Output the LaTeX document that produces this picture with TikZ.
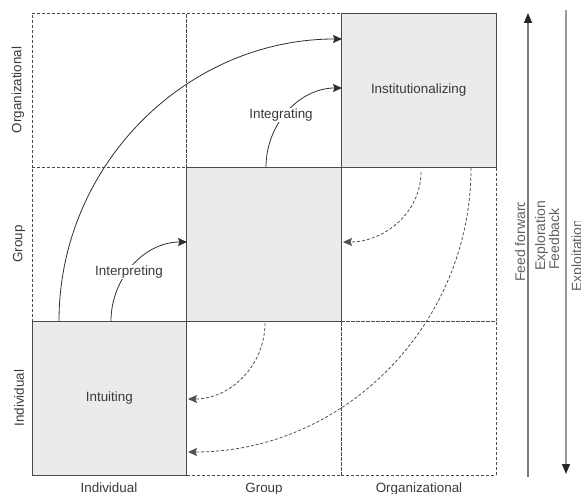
\documentclass[tikz,border=0pt]{standalone}
\usepackage{fontspec}
\setmainfont{Liberation Sans}
\usepackage{tikz}
\usetikzlibrary{arrows.meta,calc}
\definecolor{ink}{HTML}{2E2E2E}
\definecolor{cellbg}{HTML}{EBEBEB}
\definecolor{gridln}{HTML}{4A4A4A}
\definecolor{dashln}{HTML}{505050}
\definecolor{upln}{HTML}{7A7A7A}
\definecolor{dnln}{HTML}{9A9A9A}
\definecolor{txt}{HTML}{3A3A3A}
\tikzset{
  cell/.style={rectangle,draw=gridln,densely dashed,line width=0.7pt,
    minimum width=154.67pt,minimum height=154pt,inner sep=0pt,outer sep=0pt,
    font=\fontsize{13.4}{16}\selectfont,text=txt},
  cellg/.style={cell,solid,fill=cellbg},
  lbl/.style={font=\fontsize{13.4}{16}\selectfont,text=txt,inner sep=1pt},
  lblw/.style={lbl,fill=white},
  axl/.style={lbl,rotate=90},
  sidel/.style={font=\fontsize{14}{16}\selectfont,text=txt!80,rotate=90,anchor=base west,inner sep=0pt},
  ar/.style={-{Stealth[length=9pt,width=8pt,inset=1.5pt]},line width=0.8pt,draw=ink},
  ard/.style={ar,densely dashed,draw=dashln},
  axar/.style={-{Triangle[length=10pt,width=8pt,color=black!85]},line width=1.4pt},
}

\begin{document}
\begin{tikzpicture}[x=1pt,y=-1pt]
  \useasboundingbox (0,0) rectangle (581,494);
  % the 3x3 grid; shaded cells come last so their frame stays solid
  \foreach \r/\c/\s/\t in {1/1/cell/{},1/2/cell/{},2/1/cell/{},2/3/cell/{},3/2/cell/{},3/3/cell/{},
      1/3/cellg/Institutionalizing,2/2/cellg/{},3/1/cellg/Intuiting}
    \node[\s] (c\r\c) at ({32+154.67*(\c-0.5)},{13+154*(\r-0.5)}) {\t};

  % end points of the arcs
  \coordinate (ffs) at (59,321);   \coordinate (ffe) at (342,39);
  \coordinate (igs) at (266,167);  \coordinate (ige) at (342,88);
  \coordinate (ips) at (111,321);  \coordinate (ipe) at (187,242);
  \coordinate (fbas) at (421,172); \coordinate (fbae) at (343,242);
  \coordinate (fbbs) at (471,168); \coordinate (fbbe) at (188,452);
  \coordinate (fbcs) at (265,323); \coordinate (fbce) at (188,399);

  % feed forward
  \draw[ar] (ffs) to[out=90,in=180] (ffe);
  \draw[ar] (igs) to[out=90,in=180] (ige);
  \draw[ar] (ips) to[out=90,in=180] (ipe);
  % feedback
  \draw[ard] (fbas) to[out=-90,in=0] (fbae);
  \draw[ard] (fbbs) to[out=-90,in=0] (fbbe);
  \draw[ard] (fbcs) to[out=-90,in=0] (fbce);

  \node[lblw] (integ) at (281,115) {Integrating};
  \node[lblw] (interp) at (129,272) {Interpreting};

  % level labels
  \node[axl] (yorg) at (18,90) {Organizational};
  \node[axl] (ygrp) at (19,244) {Group};
  \node[axl] (yind) at (19,398) {Individual};
  \node[lbl,anchor=base] (xind) at (109,492) {Individual};
  \node[lbl,anchor=base] (xgrp) at (264,492) {Group};
  \node[lbl,anchor=base] (xorg) at (419,492) {Organizational};

  % the two flows on the right
  \coordinate (upb) at (528,477); \coordinate (upt) at (528,13);
  \coordinate (dnt) at (566,10);  \coordinate (dnb) at (566,474);
  \draw[axar,draw=upln] (upb) -- (upt);
  \draw[axar,draw=dnln] (dnt) -- (dnb);

  \begin{scope}
    \clip (500,203) rectangle (581,494);
    \node[sidel] (ffw) at (525,282) {Feed forward};
  \end{scope}
  \node[sidel] (expl) at (545,271) {Exploration};
  \node[sidel] (fdbk) at (559,270) {Feedback};
  \begin{scope}
    \clip (560,222) rectangle (581,494);
    \node[sidel] (expt) at (581.5,292) {Exploitation};
  \end{scope}
\end{tikzpicture}
\end{document}
